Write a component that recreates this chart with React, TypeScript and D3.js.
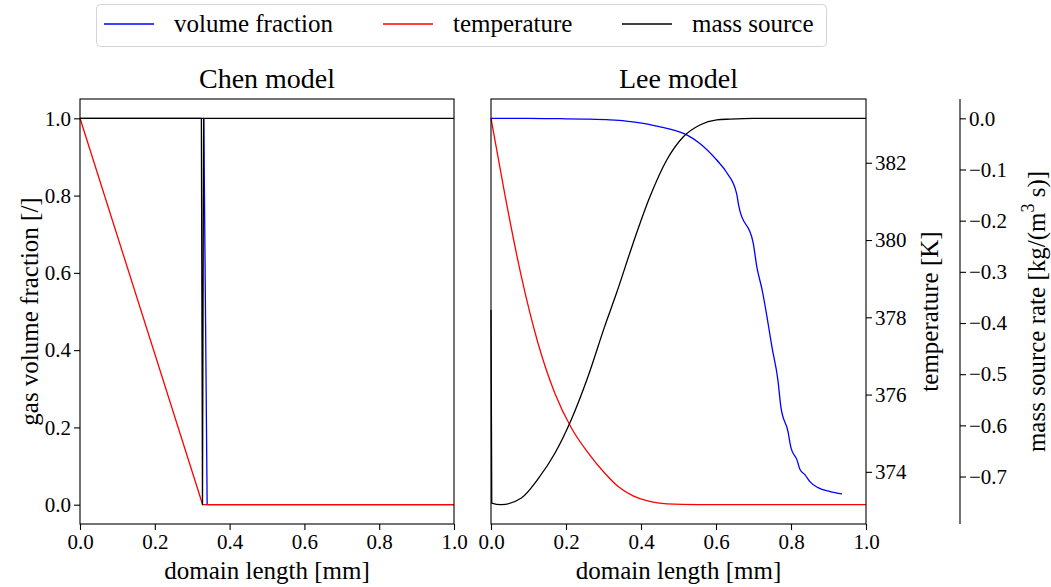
import React, { useEffect, useRef } from "react";
import * as d3 from "d3";

// ---- data ----
// Chen model (left panel)
const chenAlphaX = [0, 0.331, 0.34, 1.0];
const chenAlpha = [1, 1, 0, 0];
const chenTempX = [0, 0.328, 1.0];
const chenTemp = [383.15, 373.15, 373.15];
const chenMassX = [0, 0.3245, 0.3275, 0.3305, 1.0];
const chenMass = [0, 0, -1, 0, 0]; // normalised, no axis shown

// Lee model (right panel)
const leeAlphaX = [
  0, 0.1, 0.184, 0.25, 0.317, 0.36, 0.406, 0.451, 0.469, 0.522, 0.557, 0.602,
  0.629, 0.655, 0.661, 0.699, 0.709, 0.723, 0.736, 0.749, 0.765, 0.773, 0.792,
  0.8, 0.816, 0.824, 0.837, 0.851, 0.872, 0.904, 0.936,
];
const leeAlpha = [
  1.0, 1.0, 0.999, 0.998, 0.996, 0.993, 0.987, 0.978, 0.974, 0.957, 0.935,
  0.892, 0.859, 0.805, 0.772, 0.678, 0.615, 0.556, 0.486, 0.409, 0.323, 0.253,
  0.189, 0.147, 0.116, 0.091, 0.078, 0.059, 0.044, 0.034, 0.028,
];
const leeTempX = [
  0, 0.0365, 0.081, 0.125, 0.17, 0.214, 0.259, 0.303, 0.339, 0.379, 0.42,
  0.469, 0.55, 1.0,
];
const leeTemp = [
  383.15, 381.2, 379.05, 377.34, 376.04, 375.14, 374.49, 373.97, 373.62,
  373.38, 373.24, 373.17, 373.15, 373.15,
];
const leeMassX = [
  0, 0.002, 0.027, 0.081, 0.125, 0.17, 0.214, 0.259, 0.303, 0.335, 0.379,
  0.424, 0.469, 0.513, 0.557, 0.602, 0.637, 0.7, 1.0,
];
const leeMass = [
  -0.374, -0.752, -0.755, -0.742, -0.705, -0.655, -0.589, -0.504, -0.407,
  -0.341, -0.244, -0.153, -0.081, -0.036, -0.013, -0.003, -0.0015, 0, 0,
];

// ticks
const xTicks = [0, 0.2, 0.4, 0.6, 0.8, 1.0];
const alphaTicks = [0, 0.2, 0.4, 0.6, 0.8, 1.0];
const tempTicks = [374, 376, 378, 380, 382];
const massTicks = [0, -0.1, -0.2, -0.3, -0.4, -0.5, -0.6, -0.7];

const legendItems = [
  { color: "#0000ff", text: "volume fraction" },
  { color: "#ff0000", text: "temperature" },
  { color: "#000000", text: "mass source" },
];

const FONT = "'Liberation Serif', 'DejaVu Serif', serif";

const padded = (vals: number[]): [number, number] => {
  const [lo, hi] = d3.extent(vals) as [number, number];
  const m = (hi - lo) * 0.05;
  return [lo - m, hi + m];
};

const App = () => {
  const ref = useRef<SVGSVGElement>(null);

  useEffect(() => {
    const svg = d3.select(ref.current);
    svg.selectAll("*").remove();

    const top = 99;
    const bottom = 524;
    const panels = [
      { left: 80, right: 454, title: "Chen model" },
      { left: 491, right: 866, title: "Lee model" },
    ];

    const yAlpha = d3.scaleLinear().domain(padded([0, 1])).range([bottom, top]);
    const yTemp = d3
      .scaleLinear()
      .domain(padded([373.15, 383.15]))
      .range([bottom, top]);
    const yMassChen = d3
      .scaleLinear()
      .domain(padded(chenMass))
      .range([bottom, top]);
    const yMassLee = d3.scaleLinear().domain(padded(leeMass)).range([bottom, top]);

    const styleAxis = (g: any) => {
      g.select(".domain").remove();
      g.selectAll(".tick line").attr("stroke", "#000").attr("stroke-width", 1.1);
      g.selectAll(".tick text")
        .attr("font-family", FONT)
        .attr("font-size", 21)
        .attr("fill", "#000");
    };

    const drawLine = (
      xs: number[],
      ys: number[],
      x: d3.ScaleLinear<number, number>,
      y: d3.ScaleLinear<number, number>,
      color: string,
      smooth: boolean
    ) => {
      const pts = xs.map((v, i) => [v, ys[i]] as [number, number]);
      svg
        .append("path")
        .datum(pts)
        .attr("fill", "none")
        .attr("stroke", color)
        .attr("stroke-width", 1.3)
        .attr("stroke-linejoin", "round")
        .attr(
          "d",
          d3
            .line<[number, number]>()
            .curve(smooth ? d3.curveMonotoneX : d3.curveLinear)
            .x((d) => x(d[0]))
            .y((d) => y(d[1]))
        );
    };

    panels.forEach((p, i) => {
      const x = d3.scaleLinear().domain([0, 1]).range([p.left, p.right]);

      if (i === 0) {
        drawLine(chenAlphaX, chenAlpha, x, yAlpha, "#0000ff", false);
        drawLine(chenTempX, chenTemp, x, yTemp, "#ff0000", false);
        drawLine(chenMassX, chenMass, x, yMassChen, "#000000", false);
      } else {
        drawLine(leeAlphaX, leeAlpha, x, yAlpha, "#0000ff", true);
        drawLine(leeTempX, leeTemp, x, yTemp, "#ff0000", true);
        drawLine(leeMassX, leeMass, x, yMassLee, "#000000", true);
      }

      svg
        .append("rect")
        .attr("x", p.left)
        .attr("y", top)
        .attr("width", p.right - p.left)
        .attr("height", bottom - top)
        .attr("fill", "none")
        .attr("stroke", "#000")
        .attr("stroke-width", 1.1);

      svg
        .append("g")
        .attr("transform", `translate(0,${bottom})`)
        .call(
          d3
            .axisBottom(x)
            .tickValues(xTicks)
            .tickFormat(d3.format(".1f"))
            .tickSize(6)
            .tickPadding(4)
        )
        .call(styleAxis);

      svg
        .append("text")
        .attr("x", (p.left + p.right) / 2)
        .attr("y", 579)
        .attr("text-anchor", "middle")
        .attr("font-family", FONT)
        .attr("font-size", 25)
        .text("domain length [mm]");

      svg
        .append("text")
        .attr("x", (p.left + p.right) / 2)
        .attr("y", 88)
        .attr("text-anchor", "middle")
        .attr("font-family", FONT)
        .attr("font-size", 28)
        .text(p.title);
    });

    // left y axis (gas volume fraction)
    svg
      .append("g")
      .attr("transform", `translate(80,0)`)
      .call(
        d3
          .axisLeft(yAlpha)
          .tickValues(alphaTicks)
          .tickFormat(d3.format(".1f"))
          .tickSize(6)
          .tickPadding(3)
      )
      .call(styleAxis);

    svg
      .append("text")
      .attr("transform", `translate(29,${(top + bottom) / 2}) rotate(-90)`)
      .attr("dy", "0.35em")
      .attr("text-anchor", "middle")
      .attr("font-family", FONT)
      .attr("font-size", 25)
      .text("gas volume fraction [/]");

    // temperature axis on right spine of Lee panel
    svg
      .append("g")
      .attr("transform", `translate(866,0)`)
      .call(
        d3
          .axisRight(yTemp)
          .tickValues(tempTicks)
          .tickFormat(d3.format("d"))
          .tickSize(6)
          .tickPadding(3)
      )
      .call(styleAxis);

    svg
      .append("text")
      .attr("transform", `translate(929,${(top + bottom) / 2}) rotate(-90)`)
      .attr("dy", "0.35em")
      .attr("text-anchor", "middle")
      .attr("font-family", FONT)
      .attr("font-size", 25)
      .text("temperature [K]");

    // mass source axis, offset spine
    svg
      .append("line")
      .attr("x1", 960)
      .attr("x2", 960)
      .attr("y1", top)
      .attr("y2", bottom)
      .attr("stroke", "#000")
      .attr("stroke-width", 1.1);

    svg
      .append("g")
      .attr("transform", `translate(960,0)`)
      .call(
        d3
          .axisRight(yMassLee)
          .tickValues(massTicks)
          .tickFormat(d3.format(".1f"))
          .tickSize(6)
          .tickPadding(3)
      )
      .call(styleAxis);

    const massLabel = svg
      .append("text")
      .attr("transform", `translate(1036,${(top + bottom) / 2}) rotate(-90)`)
      .attr("dy", "0.35em")
      .attr("text-anchor", "middle")
      .attr("font-family", FONT)
      .attr("font-size", 25);
    massLabel.append("tspan").text("mass source rate [kg/(m");
    massLabel.append("tspan").attr("dy", -11).attr("font-size", 18).text("3");
    massLabel.append("tspan").attr("dy", 11).text(" s)]");

    // legend
    const legend = svg.append("g");
    legend
      .append("rect")
      .attr("x", 96.5)
      .attr("y", 4.5)
      .attr("width", 730)
      .attr("height", 42)
      .attr("rx", 4)
      .attr("fill", "#fff")
      .attr("stroke", "#d4d4d4")
      .attr("stroke-width", 1);

    const lineStarts = [104, 383, 622];
    legendItems.forEach((d, i) => {
      legend
        .append("line")
        .attr("x1", lineStarts[i])
        .attr("x2", lineStarts[i] + 50)
        .attr("y1", 24)
        .attr("y2", 24)
        .attr("stroke", d.color)
        .attr("stroke-width", 1.3);
      legend
        .append("text")
        .attr("x", lineStarts[i] + 70)
        .attr("y", 24)
        .attr("dy", "0.32em")
        .attr("font-family", FONT)
        .attr("font-size", 25)
        .text(d.text);
    });
  }, []);

  return (
    <div style={{ width: "100%" }}>
      <svg
        ref={ref}
        width={1051}
        height={587}
        style={{ position: "absolute", left: 0, top: 0, background: "#fff" }}
      ></svg>
    </div>
  );
};

export default App;
